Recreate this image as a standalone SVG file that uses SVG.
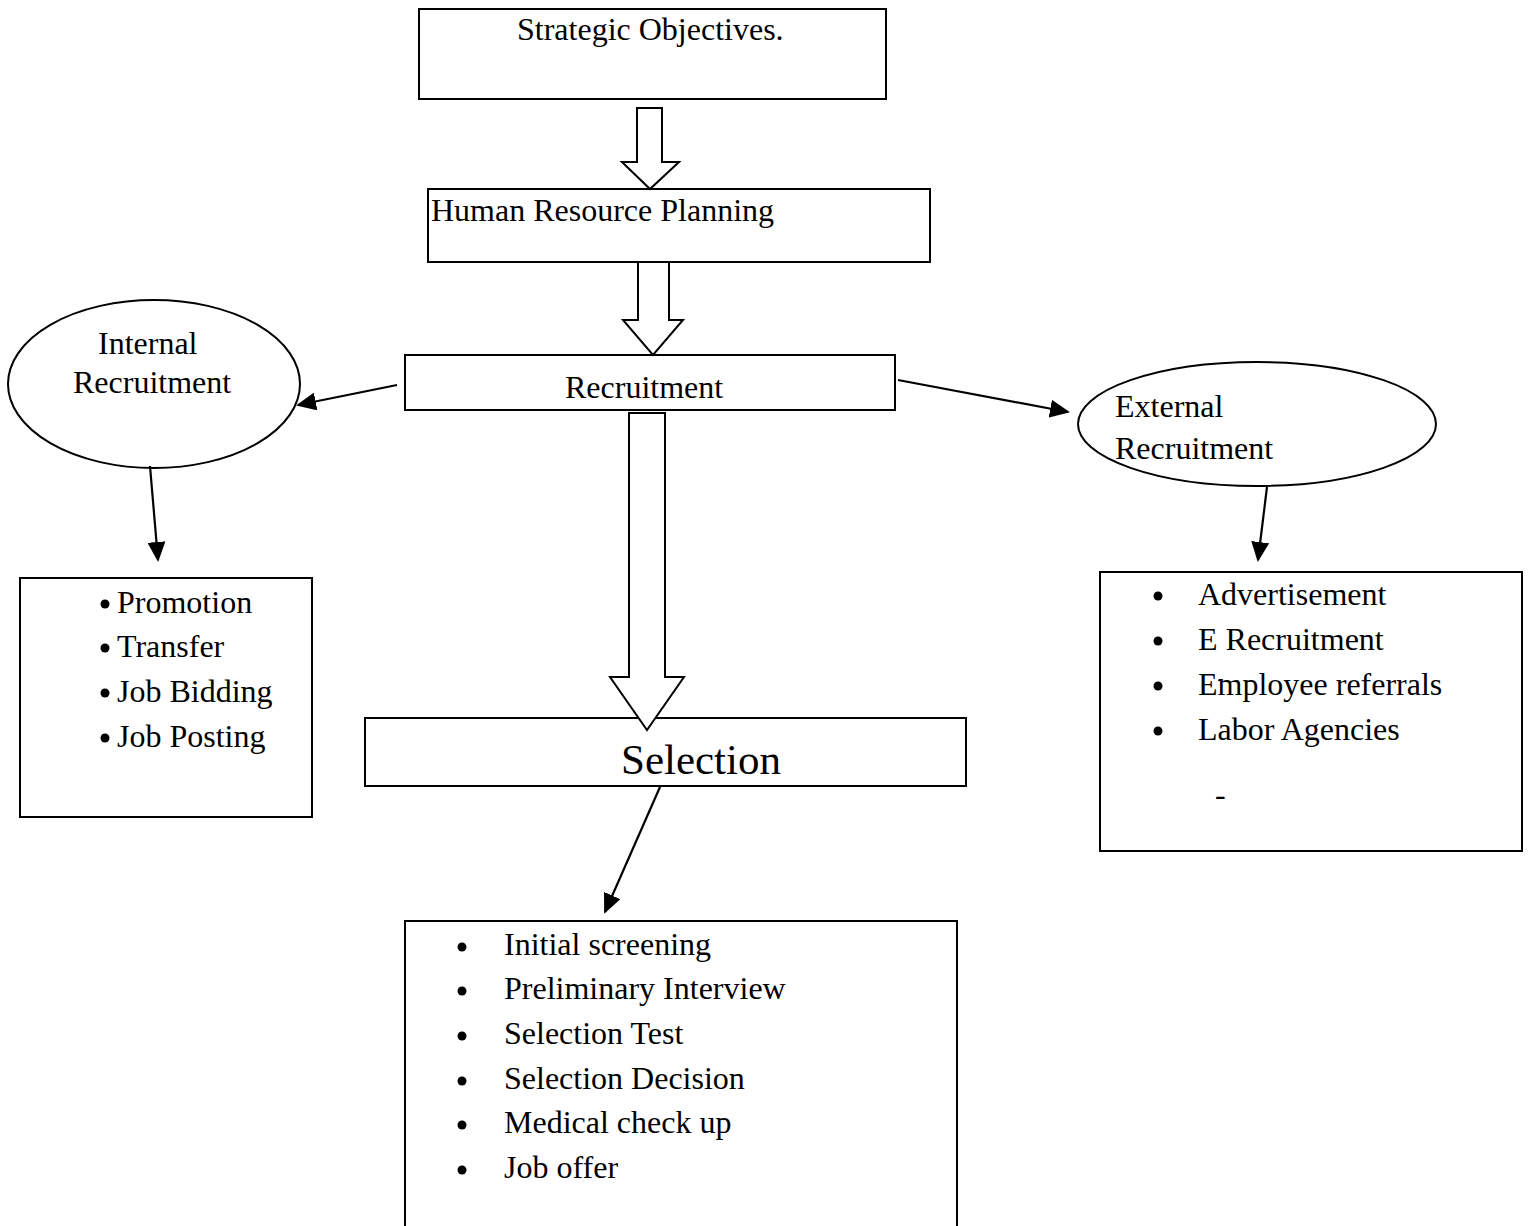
<svg xmlns="http://www.w3.org/2000/svg" width="1530" height="1226" viewBox="0 0 1530 1226">
<style>
.box{fill:#fff;stroke:#000;stroke-width:2}
.blk{fill:#fff;stroke:#000;stroke-width:2;stroke-linejoin:miter}
.t{font-family:"Liberation Serif","Times New Roman",serif;font-size:32px;fill:#000}
.big{font-size:43px}
.ln{stroke:#000;stroke-width:2.2;fill:none}
.b{fill:#000}
</style>
<defs>
<marker id="ah2" markerWidth="20" markerHeight="18" refX="18" refY="9" orient="auto" markerUnits="userSpaceOnUse" viewBox="0 0 20 18">
<path d="M0,0 L20,9 L0,18 z" fill="#000"/>
</marker>
</defs>
<rect width="1530" height="1226" fill="#fff"/>
<g id="strategic">
<rect class="box" x="419" y="9" width="467" height="90"/>
<text class="t" x="517" y="40">Strategic Objectives.</text>
</g>
<g id="hrp">
<rect class="box" x="428" y="189" width="502" height="73"/>
<text class="t" x="431" y="221">Human Resource Planning</text>
</g>
<g id="recruitment">
<rect class="box" x="405" y="355" width="490" height="55"/>
<text class="t" x="565" y="398">Recruitment</text>
</g>
<g id="internal">
<ellipse class="box" cx="154" cy="384" rx="146" ry="84"/>
<text class="t" x="98" y="354">Internal</text>
<text class="t" x="73" y="393">Recruitment</text>
</g>
<g id="external">
<ellipse class="box" cx="1257" cy="424" rx="179" ry="62"/>
<text class="t" x="1115" y="417">External</text>
<text class="t" x="1115" y="459">Recruitment</text>
</g>
<g id="internal-list">
<rect class="box" x="20" y="578" width="292" height="239"/>
<circle class="b" cx="105" cy="604" r="4.5"/><text class="t" x="117" y="613">Promotion</text>
<circle class="b" cx="105" cy="648" r="4.5"/><text class="t" x="117" y="657">Transfer</text>
<circle class="b" cx="105" cy="693" r="4.5"/><text class="t" x="117" y="702">Job Bidding</text>
<circle class="b" cx="105" cy="738" r="4.5"/><text class="t" x="117" y="747">Job Posting</text>
</g>
<g id="external-list">
<rect class="box" x="1100" y="572" width="422" height="279"/>
<circle class="b" cx="1158" cy="596" r="4.5"/><text class="t" x="1198" y="605">Advertisement</text>
<circle class="b" cx="1158" cy="641" r="4.5"/><text class="t" x="1198" y="650">E Recruitment</text>
<circle class="b" cx="1158" cy="686" r="4.5"/><text class="t" x="1198" y="695">Employee referrals</text>
<text class="t" x="1218" y="684" style="font-size:16px">-</text>
<circle class="b" cx="1158" cy="731" r="4.5"/><text class="t" x="1198" y="740">Labor Agencies</text>
<text class="t" x="1215" y="805">-</text>
</g>
<g id="selection">
<rect class="box" x="365" y="718" width="601" height="68"/>
<text class="t big" x="621" y="774">Selection</text>
</g>
<g id="selection-list">
<rect class="box" x="405" y="921" width="552" height="330"/>
<circle class="b" cx="462" cy="947" r="4.5"/><text class="t" x="504" y="955">Initial screening</text>
<circle class="b" cx="462" cy="991" r="4.5"/><text class="t" x="504" y="999">Preliminary Interview</text>
<circle class="b" cx="462" cy="1036" r="4.5"/><text class="t" x="504" y="1044">Selection Test</text>
<circle class="b" cx="462" cy="1081" r="4.5"/><text class="t" x="504" y="1089">Selection Decision</text>
<circle class="b" cx="462" cy="1125" r="4.5"/><text class="t" x="504" y="1133">Medical check up</text>
<circle class="b" cx="462" cy="1170" r="4.5"/><text class="t" x="504" y="1178">Job offer</text>
</g>
<g id="connectors">
<polygon class="blk" points="637,108 662,108 662,162 679,162 650,189 622,162 637,162"/>
<polygon class="blk" points="638,262 669,262 669,320 683,320 653,355 623,320 638,320"/>
<polygon class="blk" points="629,413 665,413 665,677 684,677 647,730 610,677 629,677"/>
<line class="ln" x1="397" y1="385" x2="298" y2="405" marker-end="url(#ah2)"/>
<line class="ln" x1="898" y1="380" x2="1068" y2="412" marker-end="url(#ah2)"/>
<line class="ln" x1="150" y1="466" x2="158" y2="560" marker-end="url(#ah2)"/>
<line class="ln" x1="1267" y1="487" x2="1258" y2="560" marker-end="url(#ah2)"/>
<line class="ln" x1="660" y1="787" x2="605" y2="912" marker-end="url(#ah2)"/>
</g>
</svg>
